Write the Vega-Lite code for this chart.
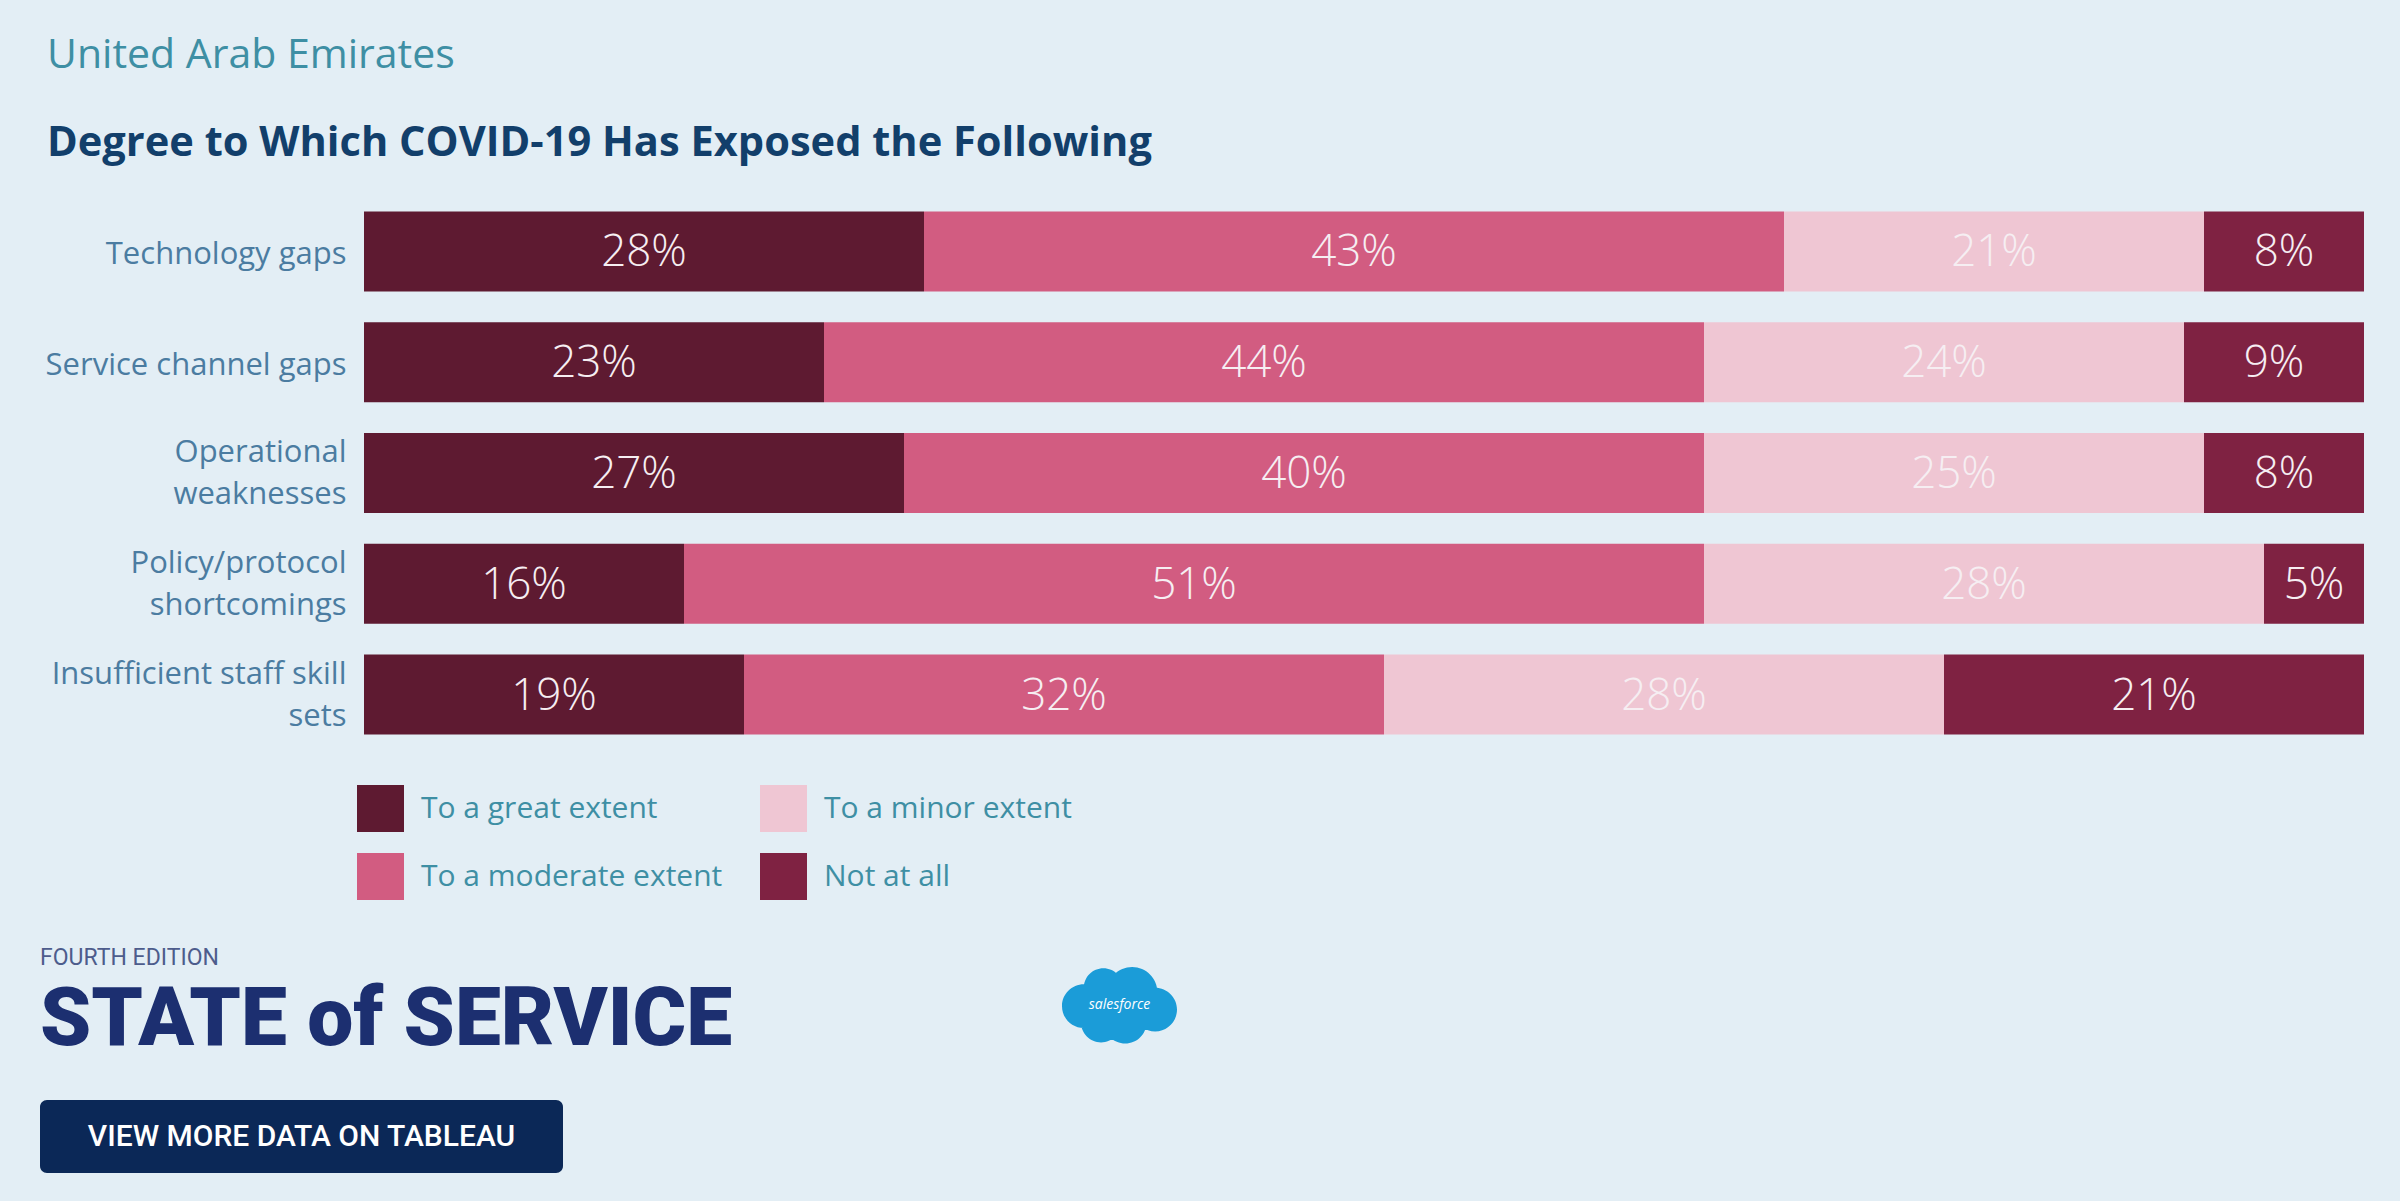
{
  "$schema": "https://vega.github.io/schema/vega-lite/v6.json",
  "background": "#e3eef5",
  "padding": {"left": 40, "top": 35, "right": 36, "bottom": 36},
  "config": {"view": {"stroke": null}, "font": "Open Sans"},
  "datasets": {
    "survey": [
      {"item": "Technology gaps", "response": "To a great extent", "rank": 1, "pct": 0.28},
      {"item": "Technology gaps", "response": "To a moderate extent", "rank": 2, "pct": 0.43},
      {"item": "Technology gaps", "response": "To a minor extent", "rank": 3, "pct": 0.21},
      {"item": "Technology gaps", "response": "Not at all", "rank": 4, "pct": 0.08},
      {"item": "Service channel gaps", "response": "To a great extent", "rank": 1, "pct": 0.23},
      {"item": "Service channel gaps", "response": "To a moderate extent", "rank": 2, "pct": 0.44},
      {"item": "Service channel gaps", "response": "To a minor extent", "rank": 3, "pct": 0.24},
      {"item": "Service channel gaps", "response": "Not at all", "rank": 4, "pct": 0.09},
      {"item": "Operational weaknesses", "response": "To a great extent", "rank": 1, "pct": 0.27},
      {"item": "Operational weaknesses", "response": "To a moderate extent", "rank": 2, "pct": 0.40},
      {"item": "Operational weaknesses", "response": "To a minor extent", "rank": 3, "pct": 0.25},
      {"item": "Operational weaknesses", "response": "Not at all", "rank": 4, "pct": 0.08},
      {"item": "Policy/protocol shortcomings", "response": "To a great extent", "rank": 1, "pct": 0.16},
      {"item": "Policy/protocol shortcomings", "response": "To a moderate extent", "rank": 2, "pct": 0.51},
      {"item": "Policy/protocol shortcomings", "response": "To a minor extent", "rank": 3, "pct": 0.28},
      {"item": "Policy/protocol shortcomings", "response": "Not at all", "rank": 4, "pct": 0.05},
      {"item": "Insufficient staff skill sets", "response": "To a great extent", "rank": 1, "pct": 0.19},
      {"item": "Insufficient staff skill sets", "response": "To a moderate extent", "rank": 2, "pct": 0.32},
      {"item": "Insufficient staff skill sets", "response": "To a minor extent", "rank": 3, "pct": 0.28},
      {"item": "Insufficient staff skill sets", "response": "Not at all", "rank": 4, "pct": 0.21}
    ]
  },
  "columns": 1,
  "align": "none",
  "bounds": "full",
  "spacing": 47,
  "resolve": {"scale": {"color": "independent"}, "legend": {"color": "independent"}},
  "concat": [
    {
      "width": 2324,
      "height": 554,
      "data": {"name": "survey"},
      "title": {
        "text": "United Arab Emirates",
        "subtitle": "Degree to Which COVID-19 Has Exposed the Following",
        "anchor": "start",
        "frame": "group",
        "dx": 7,
        "offset": 30,
        "font": "Open Sans",
        "fontSize": 41,
        "fontWeight": "normal",
        "color": "#3e8fa4",
        "subtitleFont": "Open Sans",
        "subtitleFontSize": 41.6,
        "subtitleFontWeight": "bold",
        "subtitleColor": "#123f6b",
        "subtitlePadding": 46
      },
      "encoding": {
        "y": {
          "field": "item",
          "type": "nominal",
          "sort": ["Technology gaps", "Service channel gaps", "Operational weaknesses", "Policy/protocol shortcomings", "Insufficient staff skill sets"],
          "scale": {"paddingInner": 0.278, "paddingOuter": 0.139},
          "axis": {
            "title": null,
            "domain": false,
            "ticks": false,
            "labelFont": "Open Sans",
            "labelFontSize": 31,
            "labelColor": "#4b7ca1",
            "labelPadding": -306,
            "labelLimit": 500,
            "labelLineHeight": 42,
            "labelOffset": {
              "condition": {"test": "datum.value == 'Operational weaknesses' || datum.value == 'Policy/protocol shortcomings' || datum.value == 'Insufficient staff skill sets'", "value": -20},
              "value": 4
            },
            "labelExpr": "datum.value == 'Operational weaknesses' ? ['Operational', 'weaknesses'] : datum.value == 'Policy/protocol shortcomings' ? ['Policy/protocol', 'shortcomings'] : datum.value == 'Insufficient staff skill sets' ? ['Insufficient staff skill', 'sets'] : datum.value"
          }
        }
      },
      "layer": [
        {
          "mark": {"type": "bar"},
          "encoding": {
            "x": {"field": "pct", "type": "quantitative", "stack": "zero", "scale": {"domain": [0, 1], "nice": false, "range": [324, 2324]}, "axis": null},
            "color": {
              "field": "response",
              "type": "nominal",
              "scale": {
                "domain": ["To a great extent", "To a moderate extent", "To a minor extent", "Not at all"],
                "range": ["#5e1a31", "#d25c81", "#efc6d3", "#7f2242"]
              },
              "legend": {
                "orient": "none",
                "legendX": 317,
                "legendY": 589,
                "columns": 2,
                "title": null,
                "symbolType": "square",
                "symbolSize": 2209,
                "symbolStrokeWidth": 0,
                "symbolOpacity": 1,
                "labelFont": "Open Sans",
                "labelFontSize": 30,
                "labelColor": "#3e8fa4",
                "labelLimit": 600,
                "labelOffset": 17,
                "rowPadding": 21,
                "columnPadding": 37
              }
            },
            "order": {"field": "rank", "type": "quantitative"}
          }
        },
        {
          "transform": [
            {"stack": "pct", "groupby": ["item"], "sort": [{"field": "rank", "order": "ascending"}], "as": ["s0", "s1"]},
            {"fold": ["s0", "s1"], "as": ["edge", "pos"]}
          ],
          "mark": {"type": "text", "font": "Open Sans", "fontSize": 44, "fontWeight": 300, "color": "#f6eef2", "align": "center", "baseline": "middle", "dy": 2},
          "encoding": {
            "x": {"aggregate": "mean", "field": "pos", "type": "quantitative", "axis": null},
            "text": {"field": "pct", "type": "quantitative", "format": ".0%"},
            "detail": {"field": "response"}
          }
        }
      ]
    },
    {
      "columns": 1,
      "align": "none",
      "bounds": "full",
      "spacing": 39,
      "concat": [
        {
          "columns": 2,
          "align": "none",
          "bounds": "full",
          "spacing": 322,
          "concat": [
            {
              "width": 700,
              "height": 82,
              "data": {"values": [{"label": "STATE of SERVICE"}]},
              "title": {
                "text": "FOURTH EDITION",
                "anchor": "start",
                "frame": "group",
                "offset": 9,
                "font": "Roboto",
                "fontSize": 23,
                "fontWeight": "normal",
                "color": "#4d5c8c"
              },
              "mark": {"type": "text", "font": "Roboto", "fontSize": 82, "fontWeight": 900, "color": "#1c2f70", "align": "left", "baseline": "middle"},
              "encoding": {
                "x": {"datum": 0, "type": "quantitative", "scale": {"domain": [0, 1], "nice": false, "zero": false}, "axis": null},
                "y": {"datum": 0.5, "type": "quantitative", "scale": {"domain": [0, 1], "nice": false, "zero": false}, "axis": null},
                "text": {"field": "label"}
              }
            },
            {
              "width": 115,
              "height": 52,
              "data": {"values": [{"label": "salesforce"}]},
              "layer": [
                {
                  "mark": {
                    "type": "point",
                    "filled": true,
                    "opacity": 1,
                    "color": "#1b9cd8",
                    "strokeWidth": 0,
                    "size": 13225,
                    "shape": "M-1,0.02a0.38,0.38 0 1,0 0.76,0a0.38,0.38 0 1,0 -0.76,0ZM-0.62,-0.3a0.34,0.34 0 1,0 0.68,0a0.34,0.34 0 1,0 -0.68,0ZM-0.22,-0.22a0.44,0.44 0 1,0 0.88,0a0.44,0.44 0 1,0 -0.88,0ZM0.24,0.08a0.38,0.38 0 1,0 0.76,0a0.38,0.38 0 1,0 -0.76,0ZM-0.27,0.3a0.37,0.37 0 1,0 0.74,0a0.37,0.37 0 1,0 -0.74,0ZM-0.67,0.3a0.35,0.35 0 1,0 0.7,0a0.35,0.35 0 1,0 -0.7,0ZM-0.45,0.05a0.45,0.45 0 1,0 0.9,0a0.45,0.45 0 1,0 -0.9,0Z"
                  },
                  "encoding": {
                    "x": {"datum": 0.5, "type": "quantitative", "scale": {"domain": [0, 1], "nice": false, "zero": false}, "axis": null},
                    "y": {"datum": 0.5, "type": "quantitative", "scale": {"domain": [0, 1], "nice": false, "zero": false}, "axis": null}
                  }
                },
                {
                  "mark": {"type": "text", "color": "#ffffff", "font": "Open Sans", "fontSize": 14, "fontStyle": "italic", "align": "center", "baseline": "middle"},
                  "encoding": {
                    "x": {"datum": 0.5, "type": "quantitative"},
                    "y": {"datum": 0.5, "type": "quantitative"},
                    "text": {"field": "label"}
                  }
                }
              ]
            }
          ]
        },
        {
          "width": 523,
          "height": 73,
          "data": {"values": [{"label": "VIEW MORE DATA ON TABLEAU"}]},
          "layer": [
            {
              "mark": {"type": "rect", "color": "#0b2857", "cornerRadius": 7},
              "encoding": {
                "x": {"datum": 0, "type": "quantitative", "scale": {"domain": [0, 1], "nice": false, "zero": false}, "axis": null},
                "x2": {"datum": 1},
                "y": {"datum": 0, "type": "quantitative", "scale": {"domain": [0, 1], "nice": false, "zero": false}, "axis": null},
                "y2": {"datum": 1}
              }
            },
            {
              "mark": {"type": "text", "color": "#ffffff", "font": "Roboto", "fontSize": 30, "fontWeight": 500, "align": "center", "baseline": "middle"},
              "encoding": {
                "x": {"datum": 0.5, "type": "quantitative"},
                "y": {"datum": 0.5, "type": "quantitative"},
                "text": {"field": "label"}
              }
            }
          ]
        }
      ]
    }
  ]
}
